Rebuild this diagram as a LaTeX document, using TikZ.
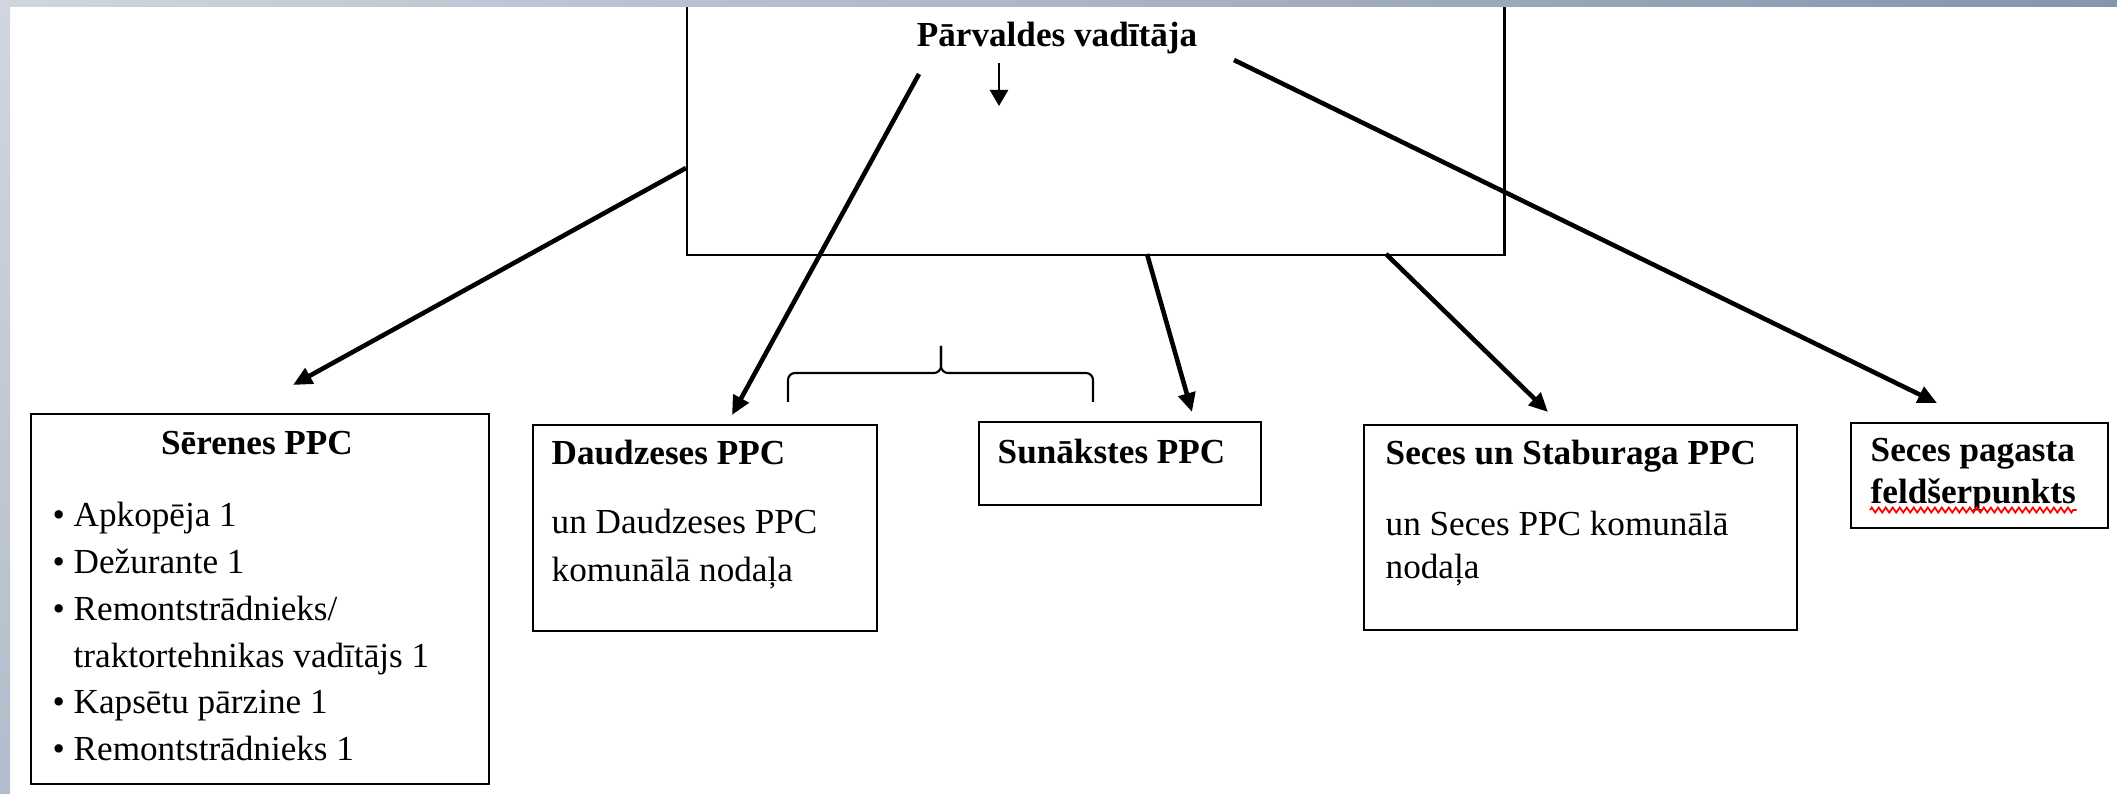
\documentclass[tikz,border=0pt]{standalone}
\usepackage{fontspec}
\setmainfont{Liberation Serif}
\usetikzlibrary{arrows.meta, positioning, decorations.pathmorphing}

\definecolor{stripL}{RGB}{207,214,223}
\definecolor{stripR}{RGB}{134,149,172}
\definecolor{sideT}{RGB}{208,214,223}
\definecolor{sideB}{RGB}{178,188,202}

\begin{document}
\begin{tikzpicture}[x=0.01cm, y=-0.01cm,
    box/.style={draw, line width=0.6pt, inner sep=0pt, anchor=north west},
    arr/.style={line width=1.3pt, -{Triangle[length=1.9mm, width=1.7mm]}},
    smallarr/.style={line width=0.7pt, -{Triangle[length=1.6mm, width=1.8mm]}},
    txt/.style={anchor=base west, inner sep=0pt, font=\fontsize{10pt}{13pt}\selectfont},
    hd/.style={txt, font=\fontsize{10pt}{13pt}\selectfont\bfseries}]
    \useasboundingbox (0,0) rectangle (2117,794);

    % boxes
    \node[box, minimum width=8.17cm, minimum height=2.54cm] (vad) at (686,0) {};
    \node[box, minimum width=4.58cm, minimum height=3.70cm] (seren) at (30,413) {};
    \node[box, minimum width=3.44cm, minimum height=2.06cm] (daud) at (532,424) {};
    \node[box, minimum width=2.82cm, minimum height=0.83cm] (sun) at (978,421) {};
    \node[box, minimum width=4.33cm, minimum height=2.05cm] (seces) at (1363,424) {};
    \node[box, minimum width=2.57cm, minimum height=1.05cm] (feld) at (1850,422) {};

    % texts
    \node[hd, anchor=base] (vadt) at (1057,47) {Pārvaldes vadītāja};
    \node[hd, anchor=base] (serent) at (257,455) {Sērenes PPC};
    \foreach \y/\t in {527/Apkopēja 1, 573/Dežurante 1, 620/{Remontstrādnieks/},
        713/Kapsētu pārzine 1, 760/Remontstrādnieks 1}{
    \node[txt] (dot\y) at (52,\y) {•};
    \node[txt] (item\y) at (73,\y) {\t};}
    \node[txt] (item667) at (73,667) {traktortehnikas vadītājs 1};
    \node[hd] (daudt) at (551,465) {Daudzeses PPC};
    \node[txt] (daud1) at (551,534) {un Daudzeses PPC};
    \node[txt] (daud2) at (551,581) {komunālā nodaļa};
    \node[hd] (sunt) at (997,463) {Sunākstes PPC};
    \node[hd] (secest) at (1385,465) {Seces un Staburaga PPC};
    \node[txt] (seces1) at (1385,535) {un Seces PPC komunālā};
    \node[txt] (seces2) at (1385,578) {nodaļa};
    \node[hd] (feldt) at (1870,462) {Seces pagasta};
    \node[hd] (feld2) at (1870,503) {feldšerpunkts};
    \draw[red, line width=0.5pt, decorate, decoration={zigzag, segment length=0.07cm, amplitude=0.025cm}]
    ([yshift=-0.07cm]feld2.base west) -- ([yshift=-0.07cm]feld2.base east);

    % brace
    \draw[line width=0.6pt, rounded corners=0.07cm] (788,402) -- (788,373) -- (941,373) -- (941,346);
    \draw[line width=0.6pt, rounded corners=0.07cm] (941,346) -- (941,373) -- (1093,373) -- (1093,402);

    % arrows
    \coordinate (s1) at (686,168);  \coordinate (e1) at (293,385);
    \coordinate (s2) at (919,74);   \coordinate (e2) at (732,415);
    \coordinate (s3) at (999,63);   \coordinate (e3) at (999,106);
    \coordinate (s4) at (1147,254); \coordinate (e4) at (1192,412);
    \coordinate (s5) at (1386,254); \coordinate (e5) at (1548,412);
    \coordinate (s6) at (1234,60);  \coordinate (e6) at (1937,403);
    \foreach \i in {1,2,4,5,6}{
    \draw[arr] (s\i) -- (e\i);}
    \draw[smallarr] (s3) -- (e3);

    % frame strips
    \shade[left color=stripL, right color=stripR] (0,0) rectangle (2117,7);
    \shade[top color=sideT, bottom color=sideB] (0,7) rectangle (10,794);
\end{tikzpicture}
\end{document}
